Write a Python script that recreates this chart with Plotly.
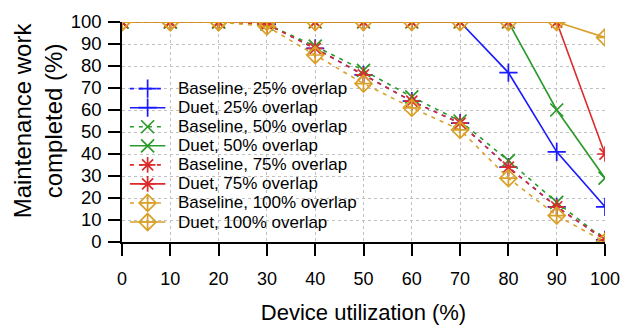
import plotly.graph_objects as go

utilization = [0, 10, 20, 30, 40, 50, 60, 70, 80, 90, 100]

baseline_25 = [100, 100, 100, 99, 88, 76, 64, 54, 34, 16, 1]
duet_25 = [100, 100, 100, 100, 100, 100, 100, 100, 77, 41, 16]
baseline_50 = [100, 100, 100, 99, 89, 78, 66, 55, 37, 18, 1]
duet_50 = [100, 100, 100, 100, 100, 100, 100, 100, 100, 60, 29]
baseline_75 = [100, 100, 100, 99, 88, 76, 64, 54, 34, 16, 1]
duet_75 = [100, 100, 100, 100, 100, 100, 100, 100, 100, 100, 40]
baseline_100 = [100, 100, 100, 98, 85, 72, 61, 51, 29, 12, 0]
duet_100 = [100, 100, 100, 100, 100, 100, 100, 100, 100, 100, 93]

x_ticks = [0, 10, 20, 30, 40, 50, 60, 70, 80, 90, 100]
y_ticks = [0, 10, 20, 30, 40, 50, 60, 70, 80, 90, 100]

names = ["Baseline, 25% overlap", "Duet, 25% overlap",
         "Baseline, 50% overlap", "Duet, 50% overlap",
         "Baseline, 75% overlap", "Duet, 75% overlap",
         "Baseline, 100% overlap", "Duet, 100% overlap"]
values = [baseline_25, duet_25, baseline_50, duet_50,
          baseline_75, duet_75, baseline_100, duet_100]
colors = ["#1a1aff", "#1a1aff", "#2a9a2a", "#2a9a2a",
          "#dd2a2a", "#dd2a2a", "#d9a12a", "#d9a12a"]
dashes = ["4px,5px", "solid"] * 4
symbols = ["cross-thin-open", "cross-thin-open", "x-thin-open", "x-thin-open",
           "asterisk-open", "asterisk-open", "diamond-cross-open", "diamond-cross-open"]

W, H = 631, 333
ML, MR, MT, MB = 122, 19, 11, 91
MSIZE = 13

fig = go.Figure()
for name, vals, color, dash, sym in zip(names, values, colors, dashes, symbols):
    fig.add_trace(go.Scatter(
        x=utilization, y=vals, name=name, mode="lines+markers", showlegend=False,
        line=dict(color=color, width=1.6, dash=dash),
        marker=dict(symbol=sym, size=MSIZE, color=color, line=dict(color=color, width=1.7)),
    ))

# Manual legend on an overlay axis measured in pixels
LEG_Y0, LEG_DY = 81, 20
LEG_X0, LEG_X1, LEG_TX = 130, 166, 178
annotations = []
for i, (name, color, dash, sym) in enumerate(zip(names, colors, dashes, symbols)):
    yy = LEG_Y0 + LEG_DY * i
    fig.add_trace(go.Scatter(
        x=[LEG_X0, LEG_X1], y=[yy, yy], xaxis="x2", yaxis="y2", mode="lines",
        line=dict(color=color, width=1.6, dash=dash), showlegend=False, hoverinfo="skip",
    ))
    fig.add_trace(go.Scatter(
        x=[(LEG_X0 + LEG_X1) / 2], y=[yy], xaxis="x2", yaxis="y2", mode="markers",
        marker=dict(symbol=sym, size=MSIZE, color=color, line=dict(color=color, width=1.7)),
        showlegend=False, hoverinfo="skip",
    ))
    annotations.append(dict(
        text=name, x=LEG_TX, y=yy, xref="x2", yref="y2", showarrow=False,
        xanchor="left", yanchor="middle", font=dict(size=17),
        borderpad=0, valign="middle",
    ))

plot_w = W - ML - MR
plot_h = H - MT - MB
annotations.append(dict(
    text="Maintenance work<br>completed (%)",
    x=(37 - ML) / plot_w, y=(H - MB - 114) / plot_h,
    xref="paper", yref="paper", showarrow=False, textangle=-90,
    font=dict(size=24), xanchor="center", yanchor="middle",
))

font_family = "Liberation Sans, Arial, sans-serif"
fig.update_layout(
    width=W, height=H,
    margin=dict(l=ML, r=MR, t=MT, b=MB),
    paper_bgcolor="white", plot_bgcolor="white",
    font=dict(family=font_family, size=17.5, color="black"),
    showlegend=False,
    xaxis=dict(
        range=[0, 100], tickvals=x_ticks, ticktext=[str(v) for v in x_ticks],
        ticks="outside", ticklen=12, tickwidth=1.5, tickcolor="black",
        ticklabelstandoff=8,
        showline=True, linecolor="black", linewidth=1.5,
        showgrid=True, gridcolor="#c0c0c0", griddash="dot", gridwidth=1,
        zeroline=False, tickfont=dict(size=18),
        title=dict(text="Device utilization (%)", font=dict(size=22), standoff=16),
    ),
    yaxis=dict(
        range=[0, 100], tickvals=y_ticks, ticktext=[str(v) for v in y_ticks],
        ticks="outside", ticklen=12, tickwidth=1.5, tickcolor="black",
        ticklabelstandoff=3,
        showline=True, linecolor="black", linewidth=1.5,
        showgrid=True, gridcolor="#c0c0c0", griddash="dot", gridwidth=1,
        zeroline=False, tickfont=dict(size=18.5),
    ),
    xaxis2=dict(range=[ML, W - MR], overlaying="x", visible=False, fixedrange=True),
    yaxis2=dict(range=[H - MB, MT], overlaying="y", visible=False, fixedrange=True),
    annotations=annotations,
)

fig.write_html("out.html")
